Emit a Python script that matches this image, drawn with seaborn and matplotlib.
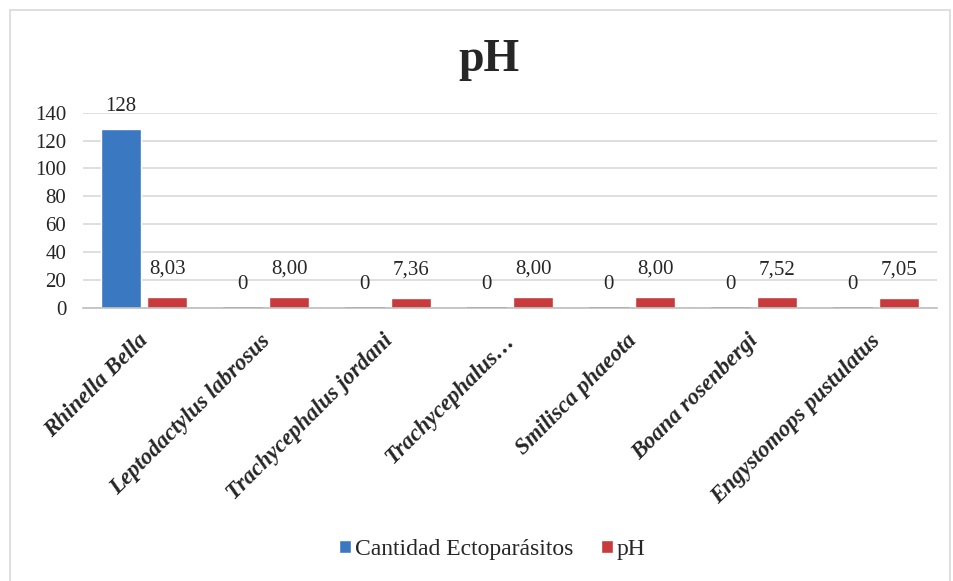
import pandas as pd
import matplotlib
matplotlib.use('Agg')
import matplotlib.pyplot as plt
import matplotlib.transforms as mtransforms
from matplotlib.patches import Patch, Rectangle
import seaborn as sns

especies = ['Rhinella Bella', 'Leptodactylus labrosus', 'Trachycephalus jordani',
            'Trachycephalus…', 'Smilisca phaeota', 'Boana rosenbergi',
            'Engystomops pustulatus']
ectoparasitos = [128, 0, 0, 0, 0, 0, 0]
ph = [8.03, 8.00, 7.36, 8.00, 8.00, 7.52, 7.05]
series = ['Cantidad Ectoparásitos', 'pH']
colores = ['#3b78c2', '#c83a3c']

df = pd.DataFrame({
    'Especie': especies * 2,
    'Valor': ectoparasitos + ph,
    'Serie': [series[0]] * len(especies) + [series[1]] * len(especies),
})

sns.set_style('white')
plt.rcParams['font.family'] = ['Liberation Serif', 'DejaVu Serif']

fig = plt.figure(figsize=(9.54, 5.81), dpi=100)
ax = fig.add_axes([0.087, 0.470, 0.895, 0.336])

sns.barplot(data=df, x='Especie', y='Valor', hue='Serie', palette=colores,
            width=0.76, gap=0.14, saturation=1, legend=False, ax=ax)

# etiquetas de datos
for cont, serie in zip(ax.containers, series):
    for bar in cont:
        h = bar.get_height()
        if h == 0:
            bar.set_edgecolor('#555555')
            bar.set_linewidth(1.2)
        txt = f'{h:.0f}' if serie == series[0] else f'{h:.2f}'.replace('.', ',')
        ax.annotate(txt, (bar.get_x() + bar.get_width() / 2, h),
                    xytext=(0, 10 if serie == series[0] else 13),
                    textcoords='offset points', ha='center', va='bottom',
                    fontsize=15, annotation_clip=False)

ax.set_ylim(0, 140)
ax.set_yticks(range(0, 141, 20))
ax.set_xlim(-0.5, len(especies) - 0.5)
ax.yaxis.grid(True, color='#d9d9d9', linewidth=1.2)
ax.set_axisbelow(True)
for s in ['left', 'top', 'right']:
    ax.spines[s].set_visible(False)
ax.spines['bottom'].set_color('#bfbfbf')
ax.spines['bottom'].set_linewidth(1.2)
ax.tick_params(axis='y', length=0, labelsize=15, pad=12)
ax.tick_params(axis='x', length=0, pad=16)
ax.set_xlabel('')
ax.set_ylabel('')
ax.set_xticks(range(len(especies)))
ax.set_xticklabels(especies, rotation=45, ha='right', rotation_mode='anchor',
                   fontsize=16.5, fontweight='bold', fontstyle='italic',
                   color='#262626')
shift = mtransforms.ScaledTranslation(-6 / 100, 0, fig.dpi_scale_trans)
for lbl in ax.get_xticklabels():
    lbl.set_transform(lbl.get_transform() + shift)

fig.text(0.513, 0.897, 'pH', ha='center', va='center', fontsize=33,
         fontweight='bold')

handles = [Patch(facecolor=c, label=s) for c, s in zip(colores, series)]
fig.legend(handles=handles, loc='center', bbox_to_anchor=(0.516, 0.054),
           ncol=2, frameon=False, fontsize=17, handlelength=0.5,
           handleheight=0.5, handletextpad=0.15, columnspacing=1.2)

fig.patches.append(Rectangle((0.011, -0.01), 0.985, 0.993,
                             transform=fig.transFigure, fill=False,
                             edgecolor='#d9d9d9', linewidth=1.2))

fig.savefig('out.png', dpi=100)
